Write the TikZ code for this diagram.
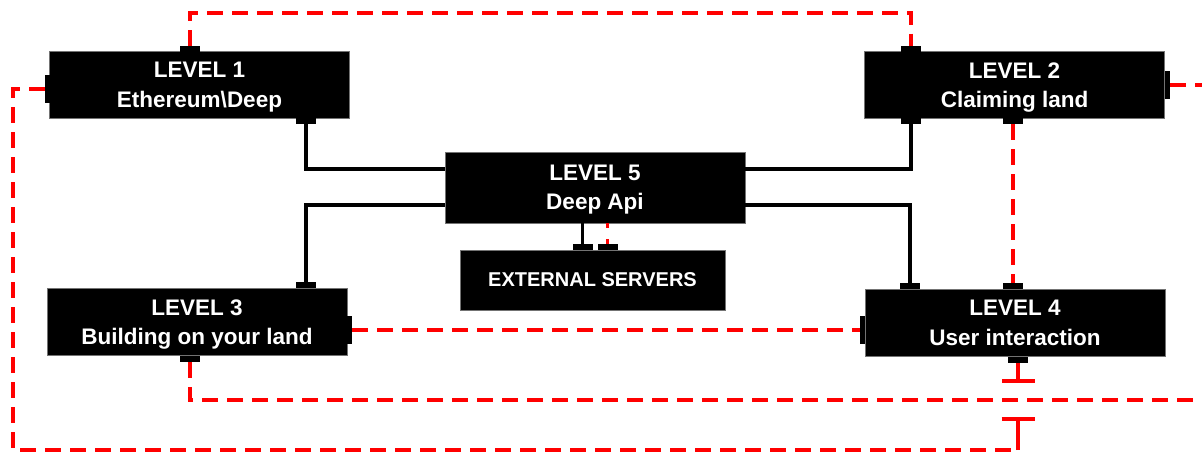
\documentclass[tikz,border=0pt]{standalone}
\usepackage{fontspec}
\setmainfont{Liberation Sans}
\usetikzlibrary{arrows.meta}
\tikzset{
    level-box/.style = {fill=black, draw=black!55, thin, text=white, font=\bfseries\fontsize{22.5}{29.5}\selectfont, align=center, minimum width=300pt, minimum height=67pt, inner sep=0pt, text depth=0pt},
    port-h/.style = {fill=black, inner sep=0pt, minimum width=20pt, minimum height=6pt},
    port-v/.style = {fill=black, inner sep=0pt, minimum width=5pt, minimum height=28pt},
    data-link/.style = {draw=black, line width=3.5pt},
    red-link/.style = {draw=red, line width=4pt, dash pattern=on 16pt off 9pt},
    red-stub/.style = {draw=red, line width=4pt, -{Bar[width=33pt]}},
    red-dot/.style = {draw=red, line width=3pt, dash pattern=on 5pt off 11pt},
}
\begin{document}
\begin{tikzpicture}[x=1pt, y=-1pt]
\useasboundingbox (0,0) rectangle (1202,454);
\node[level-box] (l1) at (199.5,85) {LEVEL 1\\Ethereum\textbackslash Deep};
\node[level-box] (l2) at (1014.5,85) {LEVEL 2\\Claiming land};
\node[level-box] (l3) at (197,322) {LEVEL 3\\Building on your land};
\node[level-box] (l4) at (1015,323) {LEVEL 4\\User interaction};
\node[level-box, minimum height=71pt] (l5) at (595,187.5) {LEVEL 5\\Deep Api};
\node[level-box, minimum width=265pt, minimum height=60pt, font=\bfseries\fontsize{20}{24}\selectfont] (ext) at (592.5,280) {EXTERNAL SERVERS};

\node[port-h, anchor=south] (l1-n) at (190,52) {};
\node[port-v, anchor=east] (l1-w) at (50,89) {};
\node[port-h, anchor=north] (l1-s) at (306,118) {};
\node[port-h, anchor=south] (l2-n) at (911,52) {};
\node[port-h, anchor=north] (l2-s) at (911,118) {};
\node[port-h, anchor=north] (l2-s2) at (1013,118) {};
\node[port-v, anchor=west] (l2-e) at (1165,85) {};
\node[port-h, anchor=south] (l3-n) at (306,288) {};
\node[port-v, anchor=west] (l3-e) at (347,330) {};
\node[port-h, anchor=north] (l3-s) at (190,356) {};
\node[port-h, anchor=south] (l4-n) at (910,289) {};
\node[port-h, anchor=south] (l4-n2) at (1013,289) {};
\node[port-v, anchor=east] (l4-w) at (865,330) {};
\node[port-h, anchor=north] (l4-s) at (1018,357) {};
\node[port-h, anchor=south] (ext-n) at (582.5,250) {};
\node[port-h, anchor=south] (ext-n2) at (607.5,250) {};

\coordinate (bar-a) at (1018,383);
\coordinate (bar-b) at (1018,417);
\coordinate (corner-b) at (1018,450);
\coordinate (edge-a) at (1202,400);
\coordinate (edge-b) at (1202,85);

\draw[data-link] (l1-s.south) |- ([yshift=18.5pt]l5.west);
\draw[data-link] (l3-n.north) |- ([yshift=-17.5pt]l5.west);
\draw[data-link] (l2-s.south) |- ([yshift=18.5pt]l5.east);
\draw[data-link] (l4-n.north) |- ([yshift=-17.5pt]l5.east);
\draw[data-link] (ext-n.north |- l5.south) -- (ext-n.north);

\draw[red-link] (l1-n.north) -- ++(0,-33) -| (l2-n.north);
\draw[red-link] (l1-w.west) -| (13,450) -- (corner-b);
\draw[red-stub] (corner-b) -- (bar-b);
\draw[red-stub] (l4-s.south) -- (bar-a);
\draw[red-link] (l3-s.south) |- (edge-a);
\draw[red-link] (l2-e.east) -- (edge-b);
\draw[red-link] (l3-e.east) -- (l4-w.west);
\draw[red-link] (l2-s2.south) -- (l4-n2.north);
\draw[red-dot] (ext-n2.north |- l5.south) -- (ext-n2.north);
\end{tikzpicture}
\end{document}
